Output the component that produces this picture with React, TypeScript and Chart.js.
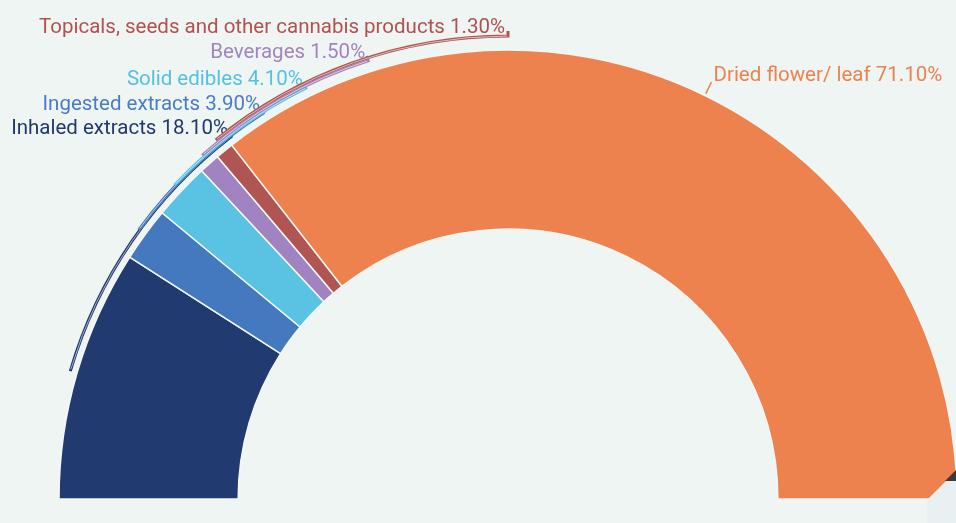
import React, { useEffect, useRef } from "react";
import { Chart, registerables } from "chart.js";

Chart.register(...registerables);

const categories = [
  "Inhaled extracts",
  "Ingested extracts",
  "Solid edibles",
  "Beverages",
  "Topicals, seeds and other cannabis products",
  "Dried flower/ leaf",
];
const shares = [18.1, 3.9, 4.1, 1.5, 1.3, 71.1];
const sliceColors = ["#213a70", "#4479c0", "#5ac3e4", "#a083c0", "#b05552", "#ee824e"];
const labelColors = ["#22396f", "#4a7cc4", "#55c0e4", "#a184c1", "#b3514f", "#ee824e"];

// leader-line layout (left-side labels): radius of the arc guide and end angle (deg above left horizontal)
const leaderRadius = [456, 457, 458, 460, 463];
const leaderEndDeg = [52.6, 57.6, 63.8, 72.3, 90];

const BG = "#eef5f2";
const FONT = "20.5px Roboto, 'Noto Sans', sans-serif";

function lighten(hex: string, t: number) {
  const n = parseInt(hex.slice(1), 16);
  const r = (n >> 16) & 255, g = (n >> 8) & 255, b = n & 255;
  const m = (c: number) => Math.round(c + (255 - c) * t);
  return `rgb(${m(r)},${m(g)},${m(b)})`;
}

const labelPlugin = {
  id: "arcLabels",
  afterDatasetsDraw(chart: any) {
    const ctx = chart.ctx as CanvasRenderingContext2D;
    const meta = chart.getDatasetMeta(0);
    ctx.save();
    ctx.font = FONT;
    ctx.textBaseline = "alphabetic";
    meta.data.forEach((arc: any, i: number) => {
      const { x, y, startAngle, endAngle, outerRadius } = arc.getProps(
        ["x", "y", "startAngle", "endAngle", "outerRadius"],
        true
      );
      const mid = (startAngle + endAngle) / 2;
      const text = `${categories[i]} ${shares[i].toFixed(2)}%`;
      ctx.fillStyle = labelColors[i];
      if (i < leaderRadius.length) {
        const r = leaderRadius[i];
        const a1 = -Math.PI + (leaderEndDeg[i] * Math.PI) / 180;
        const ex = x + r * Math.cos(a1);
        const ey = y + r * Math.sin(a1);
        const hx = x + (r + 5) * Math.cos(a1);
        const hy = y + (r + 5) * Math.sin(a1);
        ctx.lineCap = "butt";
        ctx.lineJoin = "miter";
        ctx.beginPath();
        ctx.arc(x, y, r, mid, a1, false);
        ctx.lineTo(hx, hy);
        ctx.strokeStyle = sliceColors[i];
        ctx.lineWidth = 3;
        ctx.stroke();
        ctx.beginPath();
        ctx.arc(x, y, r, mid + 0.004, a1 - 0.002, false);
        ctx.strokeStyle = lighten(sliceColors[i], 0.6);
        ctx.lineWidth = 1;
        ctx.stroke();
        ctx.textAlign = "right";
        ctx.fillText(text, ex - 3, ey - 3);
      } else {
        const x0 = x + (outerRadius + 2) * Math.cos(mid);
        const y0 = y + (outerRadius + 2) * Math.sin(mid);
        const x1 = x + (outerRadius + 15) * Math.cos(mid);
        const y1 = y + (outerRadius + 15) * Math.sin(mid);
        ctx.beginPath();
        ctx.moveTo(x0, y0);
        ctx.lineTo(x1, y1);
        ctx.strokeStyle = sliceColors[i];
        ctx.lineWidth = 1.5;
        ctx.stroke();
        ctx.textAlign = "left";
        ctx.fillText(text, x1 + 2, y1 - 1);
      }
    });
    ctx.restore();
  },
  afterDraw(chart: any) {
    const ctx = chart.ctx as CanvasRenderingContext2D;
    const w = chart.width, h = chart.height;
    ctx.save();
    ctx.beginPath();
    ctx.moveTo(w - 29, 500);
    ctx.lineTo(w, 471);
    ctx.lineTo(w, h);
    ctx.lineTo(w - 29, h);
    ctx.closePath();
    ctx.fillStyle = "#e9f0f2";
    ctx.fill();
    ctx.beginPath();
    ctx.moveTo(w - 11, 481);
    ctx.lineTo(w, 470);
    ctx.lineTo(w, 481);
    ctx.closePath();
    ctx.fillStyle = "#3b3b3d";
    ctx.fill();
    ctx.restore();
  },
};

export default function App() {
  const ref = useRef<HTMLCanvasElement | null>(null);
  useEffect(() => {
    if (!ref.current) return;
    const chart = new Chart(ref.current, {
      type: "doughnut",
      data: {
        labels: categories,
        datasets: [
          {
            data: shares,
            backgroundColor: sliceColors,
            borderColor: "#f3f8f6",
            borderWidth: 1.5,
            circumference: 180,
            rotation: -90,
            cutout: "60.1%",
            radius: 449,
            clip: false,
          } as any,
        ],
      },
      options: {
        responsive: false,
        devicePixelRatio: 1,
        animation: false,
        layout: { padding: { left: 60, right: 0, top: 26, bottom: 0 } },
        plugins: { legend: { display: false }, tooltip: { enabled: false } },
      },
      plugins: [labelPlugin],
    });
    return () => chart.destroy();
  }, []);
  return (
    <div
      style={{
        position: "absolute",
        left: 0,
        top: 0,
        width: 956,
        height: 523,
        background: BG,
        overflow: "hidden",
      }}
    >
      <canvas ref={ref} width={956} height={523} style={{ display: "block" }} />
    </div>
  );
}
